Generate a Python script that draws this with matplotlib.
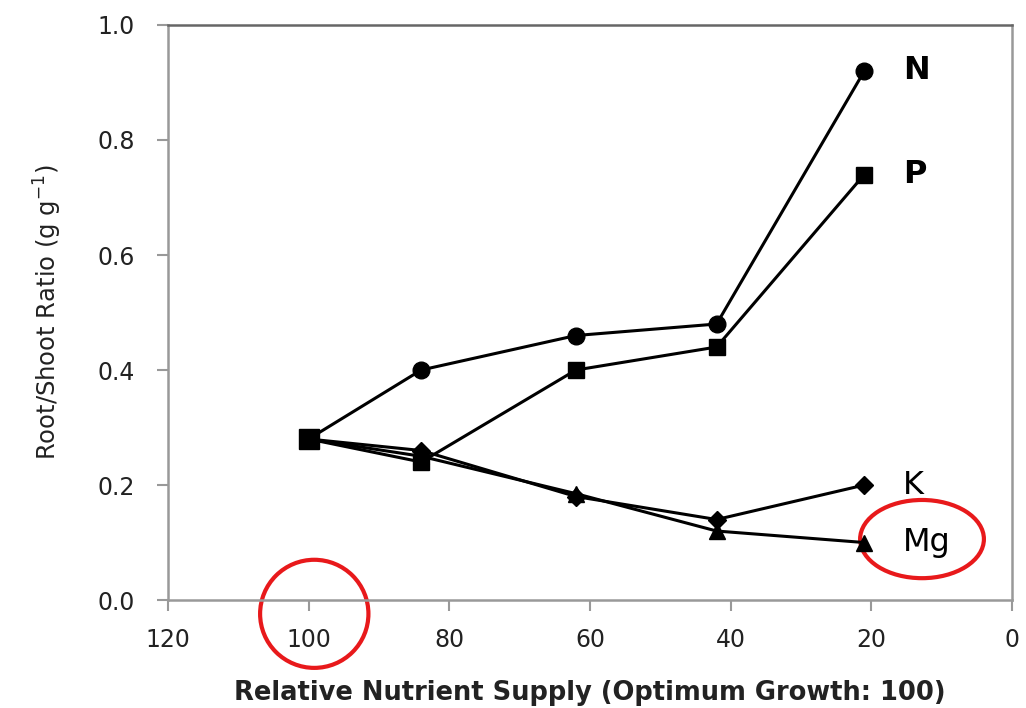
import matplotlib
matplotlib.use("Agg")
import matplotlib.pyplot as plt
from matplotlib.patches import Ellipse

# data
supply = [100, 84, 62, 42, 21]
n_ratio = [0.28, 0.40, 0.46, 0.48, 0.92]
p_ratio = [0.28, 0.24, 0.40, 0.44, 0.74]
k_ratio = [0.28, 0.26, 0.18, 0.14, 0.20]
mg_ratio = [0.28, 0.25, 0.185, 0.12, 0.10]

series = [("N", n_ratio, "o", 12, "bold"),
          ("P", p_ratio, "s", 12, "bold"),
          ("K", k_ratio, "D", 9, "normal"),
          ("Mg", mg_ratio, "^", 11, "normal")]

fig = plt.figure(figsize=(10.26, 7.08), dpi=100)
ax = fig.add_axes([0.1637, 0.1525, 0.8227, 0.8122])

for name, vals, mk, ms, wt in series:
    ax.plot(supply, vals, color="black", lw=2.2, marker=mk, ms=ms)
    ax.text(supply[-1] - 5.5, vals[-1], name, fontsize=23, fontweight=wt,
            va="center", ha="left")

# the square for P sits on top at the start point
ax.plot(supply[0], p_ratio[0], "ks", ms=14)

ax.set_xlim(120, 0)
ax.set_ylim(0, 1.0)
ax.set_xticks([120, 100, 80, 60, 40, 20, 0])
ax.set_yticks([0.0, 0.2, 0.4, 0.6, 0.8, 1.0])
ax.set_yticklabels(["0.0", "0.2", "0.4", "0.6", "0.8", "1.0"])
ax.tick_params(labelsize=17, colors="#222222", length=8, color="#999999",
               width=1.5)
ax.tick_params(axis="x", pad=12)
ax.tick_params(axis="y", pad=16)
for s in ax.spines.values():
    s.set_color("#999999")
    s.set_linewidth(1.8)
ax.spines["top"].set_color("#666666")

ax.set_xlabel("Relative Nutrient Supply (Optimum Growth: 100)",
              fontsize=18.5, fontweight="bold", color="#222222", labelpad=20)
ax.set_ylabel("Root/Shoot Ratio (g g$^{-1}$)", fontsize=17.5,
              color="#222222", labelpad=24)

# red highlight rings
ax.add_patch(Ellipse((99.2, -0.024), 15.4, 0.188, fill=False,
                     edgecolor="#e8191b", lw=3, clip_on=False))
ax.add_patch(Ellipse((12.8, 0.106), 17.6, 0.136, fill=False,
                     edgecolor="#e8191b", lw=3, clip_on=False))

fig.savefig("out.png", dpi=100)
